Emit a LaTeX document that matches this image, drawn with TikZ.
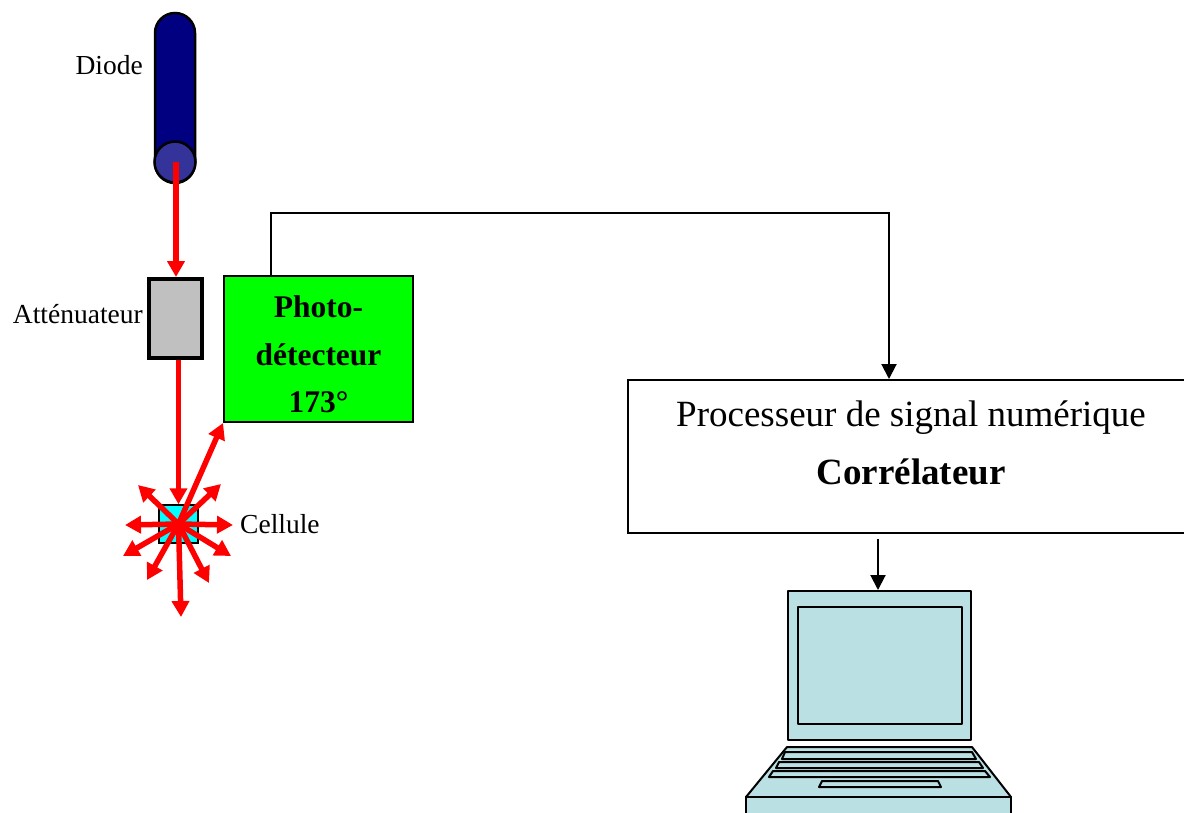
\documentclass[tikz,border=0pt]{standalone}
\usepackage{fontspec}
\setmainfont{Liberation Serif}
\usetikzlibrary{arrows.meta}
\definecolor{diodebody}{RGB}{0,0,128}
\definecolor{diodeend}{RGB}{51,51,153}
\definecolor{attgray}{RGB}{192,192,192}
\definecolor{detgreen}{RGB}{0,255,0}
\definecolor{cellcyan}{RGB}{0,255,255}
\definecolor{laptopblue}{RGB}{187,224,227}
\definecolor{beamred}{RGB}{255,0,0}

\begin{document}
\begin{tikzpicture}[x=1pt,y=-1pt,
  beam/.style={draw=beamred,line width=5.5pt,-{Triangle[length=16pt,width=17pt]}},
  wire/.style={draw=black,line width=2pt},
  wirearrow/.style={wire,-{Triangle[length=15pt,width=15pt]}},
  smalllabel/.style={font=\fontsize{27.5}{30}\selectfont,inner sep=0pt},
  detlabel/.style={font=\bfseries\fontsize{31.5}{34}\selectfont,inner sep=0pt,anchor=base},
  proclabel/.style={font=\fontsize{37}{40}\selectfont,inner sep=0pt,anchor=base},
  box/.style={draw=black,line width=2pt,inner sep=0pt},
  laptop/.style={draw=black,line width=2pt,fill=laptopblue,line join=round}]

\useasboundingbox (0,0) rectangle (1184,812);
\clip (0,0) rectangle (1184,812);

% laser diode
\draw[line width=2.5pt,fill=diodebody,rounded corners=20pt] (155,13) rectangle (195,183);
\draw[line width=2.5pt,fill=diodeend] (175,162) circle (20.5);
\coordinate (diodeout) at (176,162);
\node[smalllabel,anchor=base east] (diodelbl) at (143,74) {Diode};

% attenuator
\node[box,line width=4pt,fill=attgray,minimum width=53pt,minimum height=79pt] (att) at (175.5,318.5) {};
\node[smalllabel,anchor=base east] (attlbl) at (143,323) {Atténuateur};

% photodetector
\node[box,fill=detgreen,minimum width=189pt,minimum height=146pt] (det) at (318.5,349) {};
\node[detlabel] (det1) at (318.5,317) {Photo-};
\node[detlabel] (det2) at (318.5,365) {détecteur};
\node[detlabel] (det3) at (318.5,412) {173°};

% sample cell
\node[draw=black,line width=1.5pt,fill=cellcyan,minimum width=39pt,minimum height=38pt,inner sep=0pt] (cell) at (178.5,524) {};
\node[smalllabel,anchor=base west] (celllbl) at (240,533) {Cellule};

% digital correlator
\node[box,minimum width=566pt,minimum height=153pt] (proc) at (911,456.5) {};
\node[proclabel] (proc1) at (911,426) {Processeur de signal numérique};
\node[proclabel,font=\bfseries\fontsize{37}{40}\selectfont] (proc2) at (911,484) {Corrélateur};

% laptop
\node[laptop,minimum width=183pt,minimum height=149pt,inner sep=0pt] (screen) at (879.5,665.5) {};
\draw[laptop] (798,607) rectangle (962,724);
\draw[laptop] (787,747) -- (972,747) -- (1011,797) -- (746,797) -- cycle;
\draw[laptop] (746,797) rectangle (1011,840);
\draw[laptop] (785,752) -- (972,752) -- (976,759) -- (782,759) -- cycle;
\draw[laptop] (779,762) -- (979,762) -- (983,768) -- (776,768) -- cycle;
\draw[laptop] (773,771) -- (985,771) -- (990,777) -- (769,777) -- cycle;
\draw[laptop] (822,781) -- (938,781) -- (941,787) -- (819,787) -- cycle;

% signal wiring
\coordinate (wtop) at (271,213);
\coordinate (wright) at (889,213);
\draw[wirearrow] (det.north -| wtop) -- (wtop) -- (wright) -- (wright |- proc.north);
\draw[wirearrow] ([yshift=-5pt]proc.south -| 878,0) -- (878,0 |- screen.north);

% laser beam path
\draw[beam] (diodeout) -- (diodeout |- att.north);
\draw[beam] (att.south -| cell.center) -- (cell.north);
\draw[beam] (cell.center) -- (det.south west);

% scattered light
\foreach \name/\px/\py in {rl/125/525, rr/233/525, rul/138/485, rur/221/484,
    rdl/123/556, rdr/231/556, rdl2/147/580, rdr2/209/583, rd/181/617} {
  \coordinate (\name) at (\px,\py);
  \draw[beam] (cell.center) -- (\name);
}
\end{tikzpicture}
\end{document}
